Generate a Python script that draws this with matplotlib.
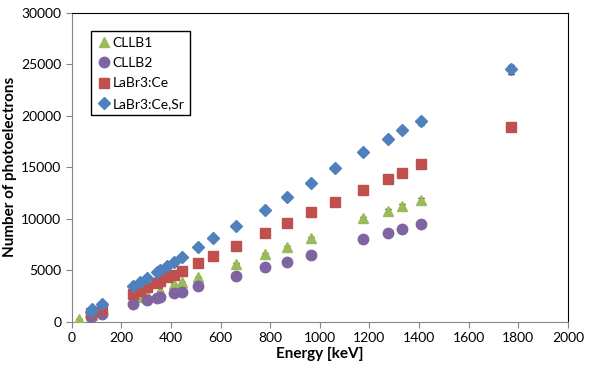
import numpy as np
import matplotlib.pyplot as plt

plt.rcParams['font.family'] = ['Lato', 'DejaVu Sans']

# CLLB1
e_cllb1 = [30, 81, 122, 276, 303, 356, 411, 444, 511, 662, 779, 867, 964, 1173, 1275, 1332, 1408]
n_cllb1 = [230, 700, 1000, 2400, 2600, 2950, 3650, 3850, 4370, 5600, 6570, 7220, 8090, 10030, 10780, 11260, 11810]
err_cllb1 = [0, 0, 0, 0, 0, 0, 0, 0, 0, 100, 100, 150, 150, 150, 180, 180, 200]

# CLLB2
e_cllb2 = [77, 122, 246, 303, 344, 356, 411, 444, 511, 662, 779, 867, 964, 1173, 1275, 1332, 1408]
n_cllb2 = [485, 745, 1680, 2100, 2330, 2430, 2815, 2910, 3460, 4430, 5275, 5790, 6440, 7990, 8640, 9030, 9450]

# LaBr3:Ce
e_labr = [77, 122, 246, 276, 303, 344, 356, 386, 411, 444, 511, 570, 662, 779, 867, 964, 1063, 1173, 1275, 1332, 1408, 1770]
n_labr = [810, 1200, 2690, 3010, 3330, 3790, 3915, 4300, 4500, 4950, 5700, 6340, 7310, 8610, 9580, 10650, 11620, 12780, 13880, 14430, 15270, 18930]

# LaBr3:Ce,Sr
e_labrsr = [77, 83, 122, 246, 276, 303, 344, 356, 386, 411, 444, 511, 570, 662, 779, 867, 964, 1063, 1173, 1275, 1332, 1408, 1770]
n_labrsr = [970, 1230, 1715, 3460, 3880, 4270, 4850, 5020, 5440, 5830, 6245, 7250, 8090, 9255, 10870, 12135, 13460, 14950, 16440, 17730, 18610, 19450, 24500]
err_labrsr = [0, 0, 0, 0, 0, 0, 0, 0, 0, 0, 0, 0, 0, 100, 150, 150, 200, 200, 250, 300, 300, 350, 450]

fig = plt.figure(figsize=(6.12, 3.73), dpi=100)
ax = fig.add_axes([0.117, 0.1375, 0.811, 0.8285])

# error bars first, markers on top
ax.errorbar(e_cllb1, n_cllb1, yerr=err_cllb1, fmt='none', ecolor='black',
            elinewidth=0.8, capsize=2, zorder=2)
ax.errorbar(e_labrsr, n_labrsr, yerr=err_labrsr, fmt='none', ecolor='black',
            elinewidth=0.8, capsize=2.5, zorder=2)

h1, = ax.plot(e_cllb1, n_cllb1, '^', color='#9BBB59', ms=7.5, label='CLLB1', zorder=3)
h2, = ax.plot(e_cllb2, n_cllb2, 'o', color='#8064A2', ms=7.5, label='CLLB2', zorder=3)
h3, = ax.plot(e_labr, n_labr, 's', color='#C0504D', ms=7, label='LaBr3:Ce', zorder=3)
h4, = ax.plot(e_labrsr, n_labrsr, 'D', color='#4F81BD', ms=6, label='LaBr3:Ce,Sr', zorder=4)

ax.set_xlim(0, 2000)
ax.set_ylim(0, 30000)
ax.set_xticks(np.arange(0, 2001, 200))
ax.set_yticks(np.arange(0, 30001, 5000))
ax.tick_params(axis='both', direction='out', length=4, color='#868686', labelsize=10)
for side in ['left', 'bottom']:
    ax.spines[side].set_color('#868686')
for side in ['top', 'right']:
    ax.spines[side].set_color('black')

ax.set_xlabel('Energy [keV]', fontweight='bold', fontsize=11, labelpad=2)
ax.set_ylabel('Number of photoelectrons', fontweight='bold', fontsize=11, labelpad=3)

leg = ax.legend(handles=[h1, h2, h3, h4], loc='upper left', bbox_to_anchor=(0.04, 0.94),
                fancybox=False, edgecolor='black', framealpha=1, fontsize=10,
                handletextpad=0.1, handlelength=1.0, borderpad=0.4, labelspacing=0.6,
                borderaxespad=0)
leg.get_frame().set_linewidth(1.0)

fig.savefig('out.png', dpi=100)
